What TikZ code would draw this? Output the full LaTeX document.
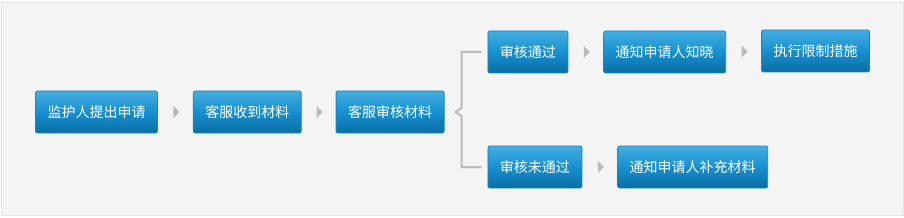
\documentclass[tikz,border=0pt]{standalone}
\usepackage{fontspec}
\newfontfamily\cjk{Noto Sans CJK SC}
\usepackage{tikz}
\usetikzlibrary{positioning,calc}
\definecolor{panelbg}{HTML}{F4F4F4}
\definecolor{panelline}{HTML}{E4E4E4}
\definecolor{boxtop}{HTML}{45AEE0}
\definecolor{boxmid}{HTML}{1690D1}
\definecolor{boxbot}{HTML}{0C6DA2}
\definecolor{boxline}{HTML}{1386C4}
\definecolor{linkgray}{HTML}{BBBBBB}
\tikzset{
    stepbox/.style={
    rectangle, rounded corners=2pt, draw=boxline, line width=0.8pt,
    top color=boxtop, bottom color=boxbot, middle color=boxmid,
    text=white, font=\cjk\fontsize{14}{15}\selectfont,
    inner xsep=12pt, minimum height=42pt
    },
    tri/.style={fill=linkgray},
    bracket/.style={draw=linkgray, line width=2pt}
}

\begin{document}
\begin{tikzpicture}[x=1pt,y=1pt]
        \useasboundingbox (0,0) rectangle (904,217);
        \draw[fill=panelbg, draw=panelline] (1,2) rectangle (903,215);

        \node[stepbox] (apply) at (96.5,105) {监护人提出申请};
        \node[stepbox, right=35pt of apply] (receive) {客服收到材料};
        \node[stepbox, right=34pt of receive] (audit) {客服审核材料};
        \node[stepbox, right=43pt of audit, yshift=60pt] (ok) {审核通过};
        \node[stepbox, right=35pt of ok] (notify) {通知申请人知晓};
        \node[stepbox, right=35pt of notify, yshift=1pt] (limit) {执行限制措施};
        \node[stepbox, right=43pt of audit, yshift=-55pt] (nok) {审核未通过};
        \node[stepbox, right=35pt of nok] (supply) {通知申请人补充材料};

        % small grey pointers between the steps
        \foreach \a/\b in {apply/receive, receive/audit, ok/notify, notify/limit, nok/supply}{
        \fill[tri] ($(\a.east)!.5!(\b.west)$) ++(-2pt,6pt) -- ++(6pt,-6pt) -- ++(-6pt,-6pt) -- cycle;
    }

    \coordinate (tip) at ([xshift=11pt]audit.east);
    \draw[bracket] ([xshift=-6pt]ok.west) -| ([xshift=6pt,yshift=4pt]tip)
        -- (tip) -- ([xshift=6pt,yshift=-4pt]tip) |- ([xshift=-6pt]nok.west);
    \end{tikzpicture}
\end{document}
